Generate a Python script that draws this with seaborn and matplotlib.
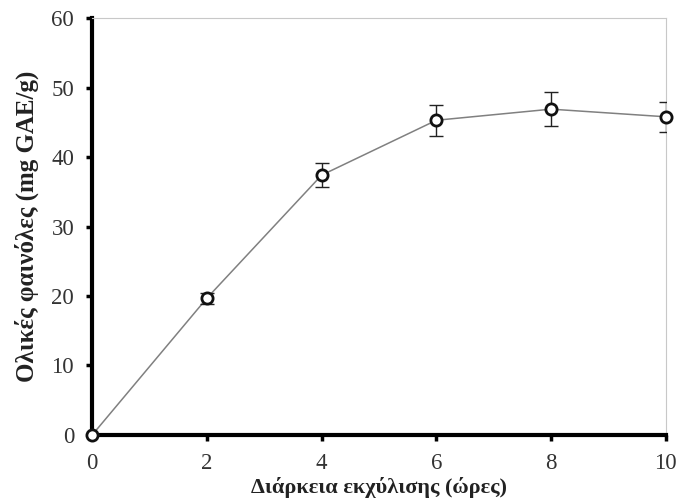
import numpy as np
import pandas as pd
import matplotlib
matplotlib.use("Agg")
import matplotlib.pyplot as plt
import seaborn as sns

hours = [0, 2, 4, 6, 8, 10]
phenols = [0.0, 19.7, 37.4, 45.3, 46.9, 45.8]
phenols_err = [0.0, 0.8, 1.7, 2.2, 2.4, 2.2]

sns.set_style("white")
plt.rcParams['font.family'] = ['Liberation Serif', 'DejaVu Serif']

fig = plt.figure(figsize=(6.78, 5.04), dpi=100)
ax = fig.add_axes([0.136, 0.137, 0.846, 0.827])

df = pd.DataFrame({"hours": hours, "phenols": phenols})
sns.lineplot(data=df, x="hours", y="phenols", ax=ax, color="#808080", linewidth=1.1, zorder=2)
ax.errorbar(hours, phenols, yerr=phenols_err, fmt="none", ecolor="#222222",
            elinewidth=1.0, capsize=5, capthick=1.0, zorder=3)
ax.scatter(hours, phenols, s=65, facecolor="white", edgecolor="#111111", linewidth=2,
           zorder=4, clip_on=False)

ax.set_xlim(0, 10)
ax.set_ylim(0, 60)
ax.set_xticks(range(0, 11, 2))
ax.set_yticks(range(0, 61, 10))

for side in ["left", "bottom"]:
    ax.spines[side].set_color("black")
    ax.spines[side].set_linewidth(3)
for side in ["right", "top"]:
    ax.spines[side].set_color("#c8c8c8")
    ax.spines[side].set_linewidth(0.8)

ax.tick_params(axis="both", direction="out", length=4, width=2.5, color="black",
               labelsize=16.5, labelcolor="#333333", pad=9, left=True, bottom=True)
ax.set_xlabel("Διάρκεια εκχύλισης (ώρες)", fontsize=16, fontweight="bold",
              color="#222222", labelpad=2)
ax.set_ylabel("Ολικές φαινόλες (mg GAE/g)", fontsize=18, fontweight="bold",
              color="#222222", labelpad=9)

fig.savefig("out.png", dpi=100)
